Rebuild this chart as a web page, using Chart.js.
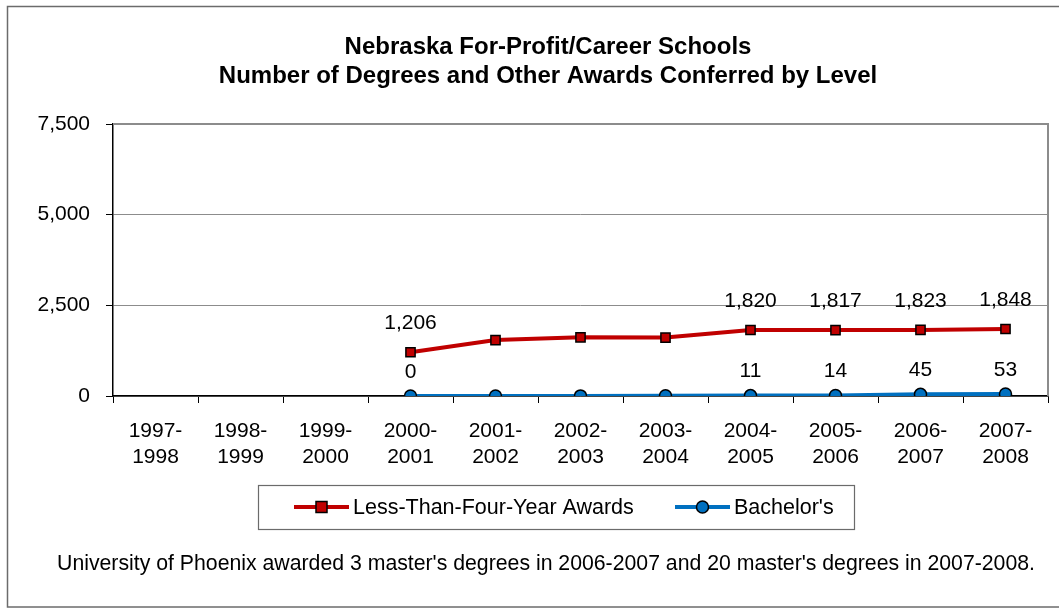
<!DOCTYPE html>
<html>
<head>
<meta charset="utf-8">
<script src="https://cdn.jsdelivr.net/npm/chart.js@4.4.1/dist/chart.umd.min.js"></script>
<style>
  html, body { margin: 0; padding: 0; background: #fff; }
  #wrap { width: 1059px; height: 609px; position: relative; }
</style>
</head>
<body>
<div id="wrap"><canvas id="chart" width="1059" height="609"></canvas></div>
<script>
// Data
const years = [
  ['1997-', '1998'], ['1998-', '1999'], ['1999-', '2000'], ['2000-', '2001'],
  ['2001-', '2002'], ['2002-', '2003'], ['2003-', '2004'], ['2004-', '2005'],
  ['2005-', '2006'], ['2006-', '2007'], ['2007-', '2008']
];
const lessThanFour = [null, null, null, 1206, 1541, 1618, 1612, 1820, 1817, 1823, 1848];
const bachelors = [null, null, null, 0, 1, 3, 6, 11, 14, 45, 53];
// which points carry a value label
const lessThanFourLabeled = [false, false, false, true, false, false, false, true, true, true, true];
const bachelorsLabeled = [false, false, false, true, false, false, false, true, true, true, true];
const yTicks = [0, 2500, 5000, 7500];
const titleLines = ['Nebraska For-Profit/Career Schools', 'Number of Degrees and Other Awards Conferred by Level'];
const footnote = "University of Phoenix awarded 3 master's degrees in 2006-2007 and 20 master's degrees in 2007-2008.";

const FONT = 'Arial, "Liberation Sans", sans-serif';
const fmt = (v) => v.toLocaleString('en-US');

// Frame, title, plot border, point labels, legend, footnote
const decor = {
  id: 'decor',
  beforeDraw(chart) {
    const c = chart.ctx;
    c.save();
    c.fillStyle = '#fff';
    c.fillRect(0, 0, chart.width, chart.height);
    c.strokeStyle = '#6b6b6b';
    c.lineWidth = 1.5;
    c.strokeRect(7.5, 6.5, 1070, 600.5);
    c.restore();
  },
  afterDatasetsDraw(chart) {
    const c = chart.ctx;
    const a = chart.chartArea;
    c.save();
    // grey top/right border of the plot area
    c.strokeStyle = '#8c8c8c';
    c.lineWidth = 2;
    c.beginPath();
    c.moveTo(a.left, a.top);
    c.lineTo(a.right, a.top);
    c.lineTo(a.right, a.bottom);
    c.stroke();

    // title
    c.fillStyle = '#000';
    c.textAlign = 'center';
    c.textBaseline = 'alphabetic';
    c.font = 'bold 24px ' + FONT;
    c.fillText(titleLines[0], 548, 54);
    c.fillText(titleLines[1], 548, 83);

    // value labels
    c.font = '21px ' + FONT;
    c.textBaseline = 'middle';
    const labeled = [lessThanFourLabeled, bachelorsLabeled];
    const lift = [29, 24];
    chart.data.datasets.forEach((ds, di) => {
      const meta = chart.getDatasetMeta(di);
      meta.data.forEach((pt, i) => {
        if (!labeled[di][i] || ds.data[i] == null) return;
        c.fillText(fmt(ds.data[i]), pt.x, pt.y - lift[di]);
      });
    });

    // legend box
    c.strokeStyle = '#6b6b6b';
    c.lineWidth = 1.2;
    c.strokeRect(258.5, 485.5, 596, 44);
    const items = [{ x: 294, ds: chart.data.datasets[0] }, { x: 675, ds: chart.data.datasets[1] }];
    const ly = 507;
    items.forEach((it) => {
      c.strokeStyle = it.ds.borderColor;
      c.lineWidth = 4;
      c.beginPath();
      c.moveTo(it.x, ly);
      c.lineTo(it.x + 55, ly);
      c.stroke();
      c.fillStyle = it.ds.pointBackgroundColor;
      c.strokeStyle = '#000';
      c.lineWidth = 1.5;
      c.beginPath();
      if (it.ds.pointStyle === 'rect') {
        c.rect(it.x + 22, ly - 5.5, 11, 11);
      } else {
        c.arc(it.x + 27.5, ly, 6, 0, Math.PI * 2);
      }
      c.fill();
      c.stroke();
      c.fillStyle = '#000';
      c.textAlign = 'left';
      c.textBaseline = 'middle';
      c.font = '21.5px ' + FONT;
      c.fillText(it.ds.label, it.x + 59, ly + 1);
    });

    // footnote
    c.textAlign = 'center';
    c.textBaseline = 'alphabetic';
    c.font = '21.25px ' + FONT;
    c.fillText(footnote, 546, 570);
    c.restore();
  }
};

new Chart(document.getElementById('chart'), {
  type: 'line',
  data: {
    labels: years,
    datasets: [
      {
        label: 'Less-Than-Four-Year Awards',
        data: lessThanFour,
        borderColor: '#c00000',
        borderWidth: 4,
        pointStyle: 'rect',
        pointRadius: 6.5,
        pointBackgroundColor: '#c00000',
        pointBorderColor: '#000',
        pointBorderWidth: 1.5,
        tension: 0
      },
      {
        label: "Bachelor's",
        data: bachelors,
        borderColor: '#0070c0',
        borderWidth: 4,
        pointStyle: 'circle',
        pointRadius: 6,
        pointBackgroundColor: '#0070c0',
        pointBorderColor: '#000',
        pointBorderWidth: 1.5,
        tension: 0
      }
    ]
  },
  options: {
    responsive: false,
    animation: false,
    devicePixelRatio: 1,
    layout: { padding: { left: 0, right: 11, top: 124, bottom: 0 } },
    plugins: {
      legend: { display: false },
      title: { display: false },
      tooltip: { enabled: false }
    },
    scales: {
      x: {
        offset: true,
        grid: {
          offset: true,
          drawOnChartArea: false,
          drawTicks: true,
          tickLength: 7,
          color: '#000'
        },
        border: { color: '#000', width: 1.5 },
        ticks: {
          color: '#000',
          font: { family: FONT, size: 21, lineHeight: 1.2 },
          padding: 16,
          maxRotation: 0,
          autoSkip: false
        },
        afterFit(scale) { scale.height = 609 - 396; }
      },
      y: {
        min: 0,
        max: 7500,
        afterBuildTicks(scale) { scale.ticks = yTicks.map((v) => ({ value: v })); },
        grid: {
          color: '#8c8c8c',
          lineWidth: 1,
          drawTicks: true,
          tickLength: 7,
          tickColor: '#000'
        },
        border: { color: '#000', width: 1.5 },
        ticks: {
          color: '#000',
          font: { family: FONT, size: 21 },
          padding: 16,
          callback: (v) => fmt(v)
        },
        afterFit(scale) { scale.width = 113; }
      }
    }
  },
  plugins: [decor]
});
</script>
</body>
</html>
